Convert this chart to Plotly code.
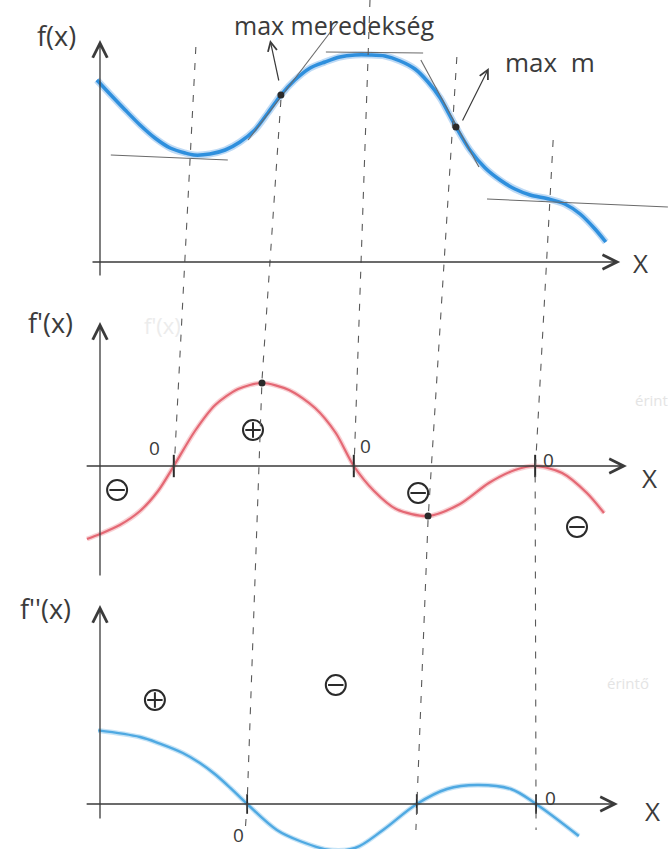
import plotly.graph_objects as go

# ---- page geometry -------------------------------------------------------
W, H = 668, 849
ORIGIN_PX = 100      # horizontal pixel where x = 0
PX_PER_X = 45.0      # pixels per x unit
PX_PER_Y = 20.0      # pixels per function unit

# vertical bands of the three panels (pixels from the top) and the pixel row of each x axis
PANEL_BANDS = [(0, 283), (283, 590), (590, 849)]
AXIS_ROWS = [262, 466, 804]

# ---- data ----------------------------------------------------------------
# f(x)
f_x = [-0.07, 0.22, 0.56, 0.89, 1.22, 1.56, 1.89, 2.09, 2.44, 2.78, 3.11, 3.44, 3.73,
       4.02, 4.33, 4.67, 5.00, 5.33, 5.67, 6.00, 6.33, 6.67, 7.00, 7.29, 7.56, 7.91,
       8.22, 8.56, 8.89, 9.22, 9.56, 9.98, 10.33, 10.67, 11.00, 11.24]
f_y = [9.10, 8.40, 7.60, 6.85, 6.20, 5.70, 5.45, 5.35, 5.40, 5.60, 6.00, 6.60, 7.45,
       8.35, 9.10, 9.70, 10.00, 10.25, 10.35, 10.35, 10.30, 10.05, 9.65, 9.00, 8.20, 6.75,
       5.60, 4.70, 4.10, 3.65, 3.35, 3.15, 2.90, 2.40, 1.65, 1.00]
f_infl_x = [4.02, 7.91]
f_infl_y = [8.35, 6.75]

# tangent segments on f: (x0, y0, x1, y1)
tangents = [
    (0.24, 5.35, 2.84, 5.10),    # at the minimum
    (3.29, 6.10, 5.29, 12.00),   # steepest rise
    (5.02, 10.50, 7.18, 10.45),  # at the maximum
    (7.13, 10.10, 8.42, 4.75),   # steepest fall
    (8.60, 3.15, 12.62, 2.75),   # horizontal inflection
]

# f'(x)
fp_x = [-0.29, 0.00, 0.44, 0.89, 1.29, 1.64, 2.11, 2.56, 3.07, 3.60, 4.20, 4.78, 5.24,
        5.64, 6.09, 6.58, 7.29, 8.00, 8.64, 9.22, 9.67, 10.27, 10.82, 11.20]
fp_y = [-3.65, -3.40, -2.95, -2.25, -1.25, 0.00, 1.75, 3.05, 3.85, 4.15, 3.80, 2.90, 1.65,
        0.00, -1.25, -2.15, -2.50, -1.90, -0.85, -0.20, 0.00, -0.35, -1.35, -2.35]
fp_ext_x = [3.60, 7.29]
fp_ext_y = [4.15, -2.50]
fp_zeros = [1.64, 5.64, 9.67]

# f''(x)
fpp_x = [-0.04, 0.89, 1.33, 1.84, 2.22, 2.55, 2.89, 3.27, 3.93, 4.44, 5.11, 5.67, 6.29,
         7.04, 7.71, 8.38, 9.13, 9.69, 10.64]
fpp_y = [3.68, 3.35, 3.02, 2.55, 2.05, 1.50, 0.82, 0.00, -1.30, -1.85, -2.30, -2.20, -1.30,
         0.00, 0.75, 0.95, 0.75, 0.00, -1.60]
fpp_zeros = [3.27, 7.04, 9.69]

# sign marks and zero labels: (x, y, sign)
fp_signs = [(0.38, -1.20, "-"), (3.40, 1.80, "+"), (7.07, -1.35, "-"), (10.60, -3.05, "-")]
fp_zero_labels = [(1.22, 0.90), (5.91, 1.00), (9.96, 0.30)]
fpp_signs = [(1.22, 5.20, "+"), (5.24, 5.95, "-")]
fpp_zero_labels = [(3.07, -1.55), (10.02, 0.30)]

# dashed guides linking the panels: vertices as (x, pixel row)
guides = [
    [(2.13, 47), (1.64, 475)],
    [(4.02, 100), (3.60, 380), (3.27, 803), (3.22, 835)],
    [(6.00, 0), (5.64, 475)],
    [(7.93, 57), (7.29, 520), (7.02, 830)],
    [(10.07, 140), (9.89, 290), (9.67, 473), (9.69, 830)],
]

# axis extents per panel: (y-axis bottom, y-axis top, x-axis left, x-axis tip)
axis_extent = [
    (-0.75, 11.10, -0.20, 11.56),
    (-5.55, 7.20, -0.33, 11.71),
    (-0.80, 9.95, -0.33, 11.51),
]
axis_titles = [("f(x)", -0.96, 11.35), ("f'(x)", -1.11, 7.15), ("f''(x)", -1.22, 9.80)]
x_labels = [(12.02, -0.05), (12.22, -0.60), (12.27, -0.35)]

# ---- styling -------------------------------------------------------------
INK = "#3b3b3b"
DARK = "#2a2a2a"
PENCIL = "#6a6a6a"
HAND = "Open Sans"
BLUE = "#2e8fdd"
RED = "#e46874"
LIGHT_BLUE = "#4fa9e2"
SPL = dict(shape="spline", smoothing=0.8)
SPL_SOFT = dict(shape="spline", smoothing=1.0)

fig = go.Figure()

def ax_names(i):
    s = "" if i == 0 else str(i + 1)
    return "x" + s, "y" + s

# curves (soft crayon halo under a firmer stroke)
fig.add_trace(go.Scatter(x=f_x, y=f_y, mode="lines", line=dict(color="rgba(70,150,225,0.35)", width=7, **SPL), xaxis="x", yaxis="y", hoverinfo="skip"))
fig.add_trace(go.Scatter(x=f_x, y=f_y, mode="lines", line=dict(color=BLUE, width=3.5, **SPL), xaxis="x", yaxis="y"))
fig.add_trace(go.Scatter(x=fp_x, y=fp_y, mode="lines", line=dict(color="rgba(235,120,130,0.35)", width=5, **SPL), xaxis="x2", yaxis="y2", hoverinfo="skip"))
fig.add_trace(go.Scatter(x=fp_x, y=fp_y, mode="lines", line=dict(color=RED, width=2.2, **SPL), xaxis="x2", yaxis="y2"))
fig.add_trace(go.Scatter(x=fpp_x, y=fpp_y, mode="lines", line=dict(color="rgba(90,175,230,0.35)", width=5, **SPL_SOFT), xaxis="x3", yaxis="y3", hoverinfo="skip"))
fig.add_trace(go.Scatter(x=fpp_x, y=fpp_y, mode="lines", line=dict(color=LIGHT_BLUE, width=2.4, **SPL_SOFT), xaxis="x3", yaxis="y3"))

# tangent segments
for x0, y0, x1, y1 in tangents:
    fig.add_trace(go.Scatter(x=[x0, x1], y=[y0, y1], mode="lines", line=dict(color=PENCIL, width=1.1), xaxis="x", yaxis="y"))

# marked points
fig.add_trace(go.Scatter(x=f_infl_x, y=f_infl_y, mode="markers", marker=dict(color=DARK, size=7), xaxis="x", yaxis="y"))
fig.add_trace(go.Scatter(x=fp_ext_x, y=fp_ext_y, mode="markers", marker=dict(color=DARK, size=7), xaxis="x2", yaxis="y2"))

# tick marks at zeros
fig.add_trace(go.Scatter(x=fp_zeros, y=[0] * len(fp_zeros), mode="markers",
                         marker=dict(symbol="line-ns-open", size=16, color=DARK, line=dict(color=DARK, width=2)),
                         xaxis="x2", yaxis="y2"))
fig.add_trace(go.Scatter(x=fpp_zeros, y=[0] * len(fpp_zeros), mode="markers",
                         marker=dict(symbol="line-ns-open", size=14, color=DARK, line=dict(color=DARK, width=1.8)),
                         xaxis="x3", yaxis="y3"))

# circled signs
def add_signs(signs, xa, ya):
    xs = [s[0] for s in signs]
    ys = [s[1] for s in signs]
    fig.add_trace(go.Scatter(x=xs, y=ys, mode="markers", xaxis=xa, yaxis=ya,
                             marker=dict(symbol="circle-open", size=20, color=DARK, line=dict(color=DARK, width=2))))
    fig.add_trace(go.Scatter(x=xs, y=ys, mode="markers", xaxis=xa, yaxis=ya,
                             marker=dict(symbol=["cross-thin-open" if s[2] == "+" else "line-ew-open" for s in signs],
                                         size=11, color=DARK, line=dict(color=DARK, width=2))))

add_signs(fp_signs, "x2", "y2")
add_signs(fpp_signs, "x3", "y3")

annotations = []
shapes = []

# hand-drawn axes with open arrow heads
for i, (yb, yt, xl, xt) in enumerate(axis_extent):
    xa, ya = ax_names(i)
    annotations.append(dict(x=0, y=yt, ax=0, ay=yb, xref=xa, yref=ya, axref=xa, ayref=ya,
                            text="", showarrow=True, arrowhead=5, arrowsize=2.2, arrowwidth=1.3,
                            arrowcolor=INK))
    annotations.append(dict(x=xt, y=0, ax=xl, ay=0, xref=xa, yref=ya, axref=xa, ayref=ya,
                            text="", showarrow=True, arrowhead=5, arrowsize=2.2, arrowwidth=1.3,
                            arrowcolor=INK))
    t, tx, ty = axis_titles[i]
    annotations.append(dict(x=tx, y=ty, xref=xa, yref=ya, text=t, showarrow=False,
                            font=dict(family=HAND, size=27, color=INK)))
    lx, ly = x_labels[i]
    annotations.append(dict(x=lx, y=ly, xref=xa, yref=ya, text="X", showarrow=False,
                            font=dict(family=HAND, size=26, color=INK)))

# notes on f
annotations.append(dict(x=5.20, y=11.85, xref="x", yref="y", text="max meredekség", showarrow=False,
                        font=dict(family=HAND, size=25, color=INK)))
annotations.append(dict(x=3.78, y=11.10, ax=3.98, ay=9.0, xref="x", yref="y", axref="x", ayref="y",
                        text="", showarrow=True, arrowhead=5, arrowsize=1.5, arrowwidth=1.2, arrowcolor=INK))
annotations.append(dict(x=10.00, y=10.0, xref="x", yref="y", text="max  m", showarrow=False,
                        font=dict(family=HAND, size=26, color=INK)))
annotations.append(dict(x=8.64, y=9.70, ax=8.04, ay=7.0, xref="x", yref="y", axref="x", ayref="y",
                        text="", showarrow=True, arrowhead=5, arrowsize=1.5, arrowwidth=1.2, arrowcolor=INK))

# zero labels
for x, y in fp_zero_labels:
    annotations.append(dict(x=x, y=y, xref="x2", yref="y2", text="0", showarrow=False,
                            font=dict(family=HAND, size=19, color=INK)))
for x, y in fpp_zero_labels:
    annotations.append(dict(x=x, y=y, xref="x3", yref="y3", text="0", showarrow=False,
                            font=dict(family=HAND, size=19, color=INK)))

# faint erased pencil notes
annotations.append(dict(x=1.38, y=7.05, xref="x2", yref="y2", text="f'(x)", showarrow=False,
                        font=dict(family=HAND, size=22, color="#ececec")))
annotations.append(dict(x=12.25, y=3.3, xref="x2", yref="y2", text="érint", showarrow=False,
                        font=dict(family=HAND, size=15, color="#e4e4e4")))
annotations.append(dict(x=11.73, y=6.05, xref="x3", yref="y3", text="érintő", showarrow=False,
                        font=dict(family=HAND, size=15, color="#e4e4e4")))

# dashed guides across the panels
for g in guides:
    path = " ".join(("M" if k == 0 else "L") + f"{x},{1 - py / H}" for k, (x, py) in enumerate(g))
    shapes.append(dict(type="path", path=path, xref="x", yref="paper",
                       line=dict(color="#5a5a5a", width=1.1, dash="7px,9px")))

# ---- axes ----------------------------------------------------------------
x_range = [-ORIGIN_PX / PX_PER_X, (W - ORIGIN_PX) / PX_PER_X]
hidden = dict(showgrid=False, zeroline=False, showline=False, showticklabels=False, ticks="", fixedrange=True)
layout_axes = {}
for i, ((top, bot), row) in enumerate(zip(PANEL_BANDS, AXIS_ROWS)):
    s = "" if i == 0 else str(i + 1)
    layout_axes["xaxis" + s] = dict(range=x_range, domain=[0, 1], anchor="y" + s, **hidden)
    layout_axes["yaxis" + s] = dict(range=[(row - bot) / PX_PER_Y, (row - top) / PX_PER_Y],
                                    domain=[1 - bot / H, 1 - top / H], anchor="x" + s, **hidden)

fig.update_layout(
    width=W, height=H, margin=dict(l=0, r=0, t=0, b=0),
    paper_bgcolor="white", plot_bgcolor="white", showlegend=False,
    annotations=annotations, shapes=shapes, **layout_axes,
)

fig.write_html("out.html")
